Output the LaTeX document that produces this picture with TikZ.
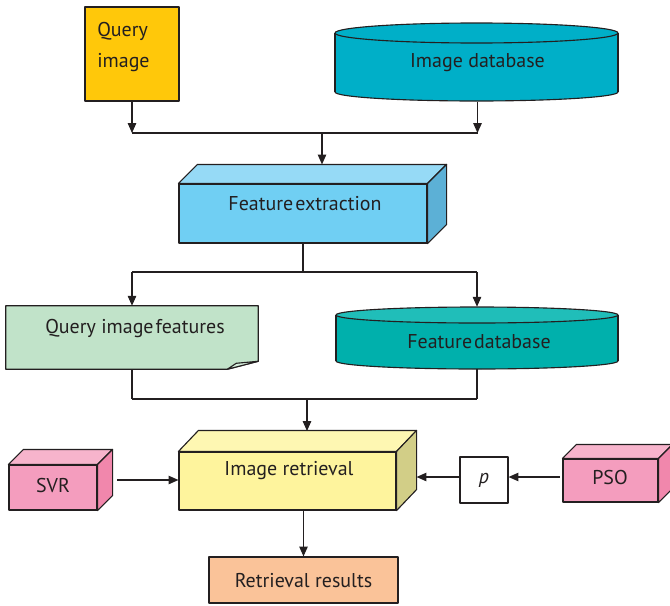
\documentclass[tikz,border=0pt]{standalone}
\usepackage{fontspec}
\setmainfont{PT Sans}
\usetikzlibrary{calc,arrows.meta}

\definecolor{inkline}{RGB}{35,31,32}
\definecolor{qimgfill}{RGB}{255,200,10}
\definecolor{imgdbfill}{RGB}{0,175,200}
\definecolor{fextfront}{RGB}{112,207,243}
\definecolor{fexttop}{RGB}{150,218,246}
\definecolor{fextside}{RGB}{92,176,214}
\definecolor{qfeatfill}{RGB}{193,227,201}
\definecolor{qfeatflap}{RGB}{214,238,220}
\definecolor{fdbfill}{RGB}{0,176,172}
\definecolor{fdbtop}{RGB}{32,190,185}
\definecolor{irfront}{RGB}{254,244,157}
\definecolor{irtop}{RGB}{254,247,178}
\definecolor{irside}{RGB}{210,206,135}
\definecolor{pinkfront}{RGB}{244,157,190}
\definecolor{pinktop}{RGB}{247,180,204}
\definecolor{pinkside}{RGB}{241,135,172}
\definecolor{resfill}{RGB}{250,195,153}

\tikzset{
  edge/.style={draw=inkline, line width=0.8pt, line join=round},
  flow/.style={edge, -{Triangle[length=7pt,width=6pt]}},
  txt/.style={text=inkline, font=\fontsize{14.2}{16}\selectfont, inner sep=0pt},
  frontface/.style 2 args={edge, minimum width=#1*0.025cm, minimum height=#2*0.025cm, inner sep=0pt},
  ghost/.style 2 args={minimum width=#1*0.025cm, minimum height=#2*0.025cm, inner sep=0pt}
}

% top and right faces of a box whose front face is a node
\def\cubefaces(#1)(#2,#3)#4#5{%
  \draw[edge, fill=#4] (#1.north west) -- ++(#2,-#3) -- ($(#1.north east)+(#2,-#3)$) -- (#1.north east) -- cycle;
  \draw[edge, fill=#5] (#1.north east) -- ++(#2,-#3) -- ($(#1.south east)+(#2,-#3)$) -- (#1.south east) -- cycle;}

\begin{document}
\begin{tikzpicture}[x=0.025cm, y=-0.025cm]
		%%%%% START %%%%%
		\useasboundingbox (0,0) rectangle (670,605);
		
		% inputs
		\node[frontface={94}{94}, fill=qimgfill] (qimg) at (132,54) {};
		\node[txt, anchor=west, align=left, font=\fontsize{14.2}{21.5}\selectfont] (qimgtxt) at (97,47) {Query\\image};
		
		\fill[edge, fill=imgdbfill] (476.5,92) ellipse [x radius=141.5, y radius=9];
		\fill[imgdbfill] (335,33) rectangle (618,92);
		\draw[edge] (335,33) -- (335,92) (618,33) -- (618,92);
		\draw[edge, fill=imgdbfill] (476.5,33) ellipse [x radius=141.5, y radius=10];
		\node[txt, ghost={283}{78}] (imgdb) at (477.5,63) {Image database};
		
		\coordinate (j1) at (322,133);
		\draw[flow] (qimg) -- (qimg |- j1);
		\draw[flow] (imgdb) -- (imgdb |- j1);
		\draw[edge] (qimg |- j1) -- (imgdb |- j1);
		
		% feature extraction
		\node[frontface={248}{59}, fill=fextfront] (fext) at (303,213.5) {};
		\cubefaces(fext)(19,19){fexttop}{fextside}
		\node[txt] (fexttxt) at (305,204) {Feature\hspace{0.1em}extraction};
		\draw[flow] (j1) -- ($(fext.north)+(19,-19)$);
		
		\coordinate (j2) at (303,272);
		\draw[edge] (fext.south) -- (j2);
		
		% features
		\node[ghost={252}{63}] (qfeat) at (132,337.5) {};
		\draw[edge, fill=qfeatfill] (qfeat.north west) -- (qfeat.north east) -- ($(qfeat.south east)+(0,-8)$) -- ($(qfeat.south east)+(-31,0)$) -- (qfeat.south west) -- cycle;
		\draw[edge, fill=qfeatflap] ($(qfeat.south east)+(-31,0)$) -- ($(qfeat.south east)+(-22,-6)$) -- ($(qfeat.south east)+(0,-8)$) -- cycle;
		\node[txt] (qfeattxt) at (135,329) {Query image\hspace{0.1em}features};
		
		\fill[edge, fill=fdbfill] (477,361) ellipse [x radius=141, y radius=8];
		\fill[fdbfill] (336,315) rectangle (618,361);
		\draw[edge] (336,315) -- (336,361) (618,315) -- (618,361);
		\draw[edge, fill=fdbtop] (477,315) ellipse [x radius=141, y radius=8];
		\node[ghost={282}{62}] (fdb) at (477,338) {};
		\node[txt] (fdbtxt) at (479,342) {Feature\hspace{0.1em}database};
		
		\draw[edge] (qfeat |- j2) -- (fdb |- j2);
		\draw[flow] (qfeat |- j2) -- (qfeat.north);
		\draw[flow] (fdb |- j2) -- (fdb.north);
		
		\coordinate (j3) at (307,399);
		\draw[edge] (qfeat.south) -- (qfeat |- j3);
		\draw[edge] (fdb.south) -- (fdb |- j3);
		\draw[edge] (qfeat |- j3) -- (fdb |- j3);
		
		% retrieval
		\node[frontface={217}{58}, fill=irfront] (ir) at (287.5,481) {};
		\cubefaces(ir)(20,21){irtop}{irside}
		\node[txt] (irtxt) at (289,471) {Image retrieval};
		\draw[flow] (j3) -- (j3 |- 0,431);
		
		\node[frontface={88}{45}, fill=pinkfront] (svr) at (53,487.5) {};
		\cubefaces(svr)(15,15){pinktop}{pinkside}
		\node[txt] (svrtxt) at (53,486) {SVR};
		\coordinate (svrout) at (117,480);
		\draw[flow] (svrout) -- (svrout -| ir.west);
		
		\node[frontface={48}{46}, fill=white] (p) at (484,480) {\fontsize{14.2}{16}\selectfont\color{inkline}\textit{p}};
		
		\node[frontface={95}{43}, fill=pinkfront] (pso) at (610.5,480.5) {};
		\cubefaces(pso)(14,14){pinktop}{pinkside}
		\node[txt] (psotxt) at (610,478) {PSO};
		\draw[flow] ([xshift=-2pt]pso.west |- 0,477) -- (p.east |- 0,477);
		\coordinate (irback) at ($(ir.north east)+(20,-21)$);
		\draw[flow] (p.west |- 0,477) -- (irback |- 0,477);
		
		\node[frontface={189}{46}, fill=resfill] (res) at (303.5,580) {};
		\node[txt] (restxt) at (303.5,581) {Retrieval results};
		\draw[flow] (res.north |- ir.south) -- (res.north);
		
		%%%%% END %%%%%
	\end{tikzpicture}
\end{document}
